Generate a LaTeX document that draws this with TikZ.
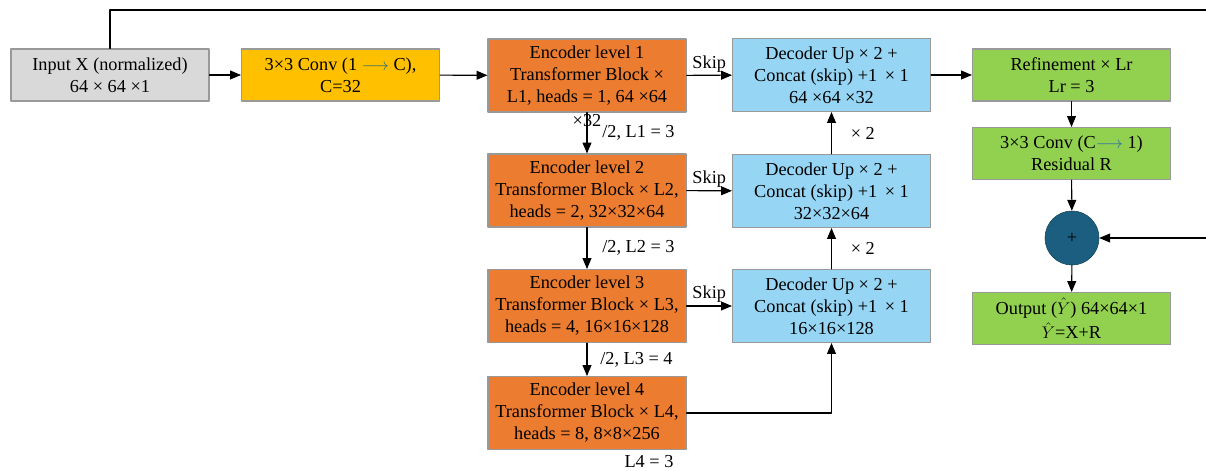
\documentclass[tikz,border=0pt]{standalone}
\usepackage{fontspec}
\setmainfont{Liberation Serif}
\usetikzlibrary{arrows}
\definecolor{inpgray}{rgb}{0.851,0.851,0.851}
\definecolor{convgold}{rgb}{1.,0.753,0.}
\definecolor{encorange}{rgb}{0.925,0.486,0.188}
\definecolor{decblue}{rgb}{0.588,0.839,0.957}
\definecolor{refgreen}{rgb}{0.573,0.816,0.314}
\definecolor{addteal}{rgb}{0.106,0.369,0.498}
\definecolor{edgegray}{rgb}{0.6,0.6,0.6}
\definecolor{tealarrow}{rgb}{0.13,0.42,0.47}
\definecolor{bluearrow}{rgb}{0.15,0.42,0.66}

\begin{document}
\begin{tikzpicture}[line cap=round,line join=round,>=triangle 45,x=0.025cm,y=-0.025cm,
  font=\fontsize{13}{15.6}\selectfont,
  box/.style={draw=edgegray,line width=0.8pt,align=center,minimum width=4.95cm},
  lowbox/.style={box,minimum height=1.3cm},
  highbox/.style={box,minimum height=1.825cm},
  inpbox/.style={lowbox,fill=inpgray},
  convbox/.style={lowbox,fill=convgold},
  encbox/.style={highbox,fill=encorange},
  decbox/.style={highbox,fill=decblue},
  refbox/.style={lowbox,fill=refgreen},
  conn/.style={->,line width=0.75pt},
  lbl/.style={inner sep=2pt}]
\useasboundingbox (0,0) rectangle (1206,471);
% input and first conv
\node [inpbox] (inp) at (110,75) {Input X (normalized)\\64 × 64 ×1};
\node [convbox] (cv1) at (340.5,75) {3×3 Conv (1 \textcolor{tealarrow}{$\longrightarrow$} C),\\C=32};
% encoder
\node [encbox] (e1) at (587,75.5) {Encoder level 1\\Transformer Block ×\\L1, heads = 1, 64 ×64};
\node [lbl] (e1b) at (587,121) {×32};
\node [encbox] (e2) at (587,190.5) {Encoder level 2\\Transformer Block × L2,\\heads = 2, 32×32×64};
\node [encbox] (e3) at (587,306) {Encoder level 3\\Transformer Block × L3,\\heads = 4, 16×16×128};
\node [encbox] (e4) at (587,413) {Encoder level 4\\Transformer Block × L4,\\heads = 8, 8×8×256};
\node [lbl] (e4b) at (649,462) {L4 = 3};
% decoder
\node [decbox] (d1) at (831.5,75) {Decoder Up × 2 +\\Concat (skip) +1 \,× 1\\64 ×64 ×32};
\node [decbox] (d2) at (831.5,191) {Decoder Up × 2 +\\Concat (skip) +1 \,× 1\\32×32×64};
\node [decbox] (d3) at (831.5,306) {Decoder Up × 2 +\\Concat (skip) +1 \,× 1\\16×16×128};
% refinement and output
\node [refbox] (ref) at (1071.5,75) {Refinement × Lr\\Lr = 3};
\node [refbox] (cv2) at (1071.5,153.5) {3×3 Conv (C\textcolor{bluearrow}{$\longrightarrow$} 1)\\Residual R};
\node [circle,draw=addteal!70!black,fill=addteal,minimum size=1.35cm,inner sep=0pt] (add) at (1072,238) {+};
\node [refbox] (out) at (1071.5,318.5) {Output ($\hat{Y}$) 64×64×1\\[2pt]$\hat{Y}$=X+R};
% connectors
\draw [conn] (inp) -- (cv1);
\draw [conn] (cv1) -- (e1);
\draw [conn] (e1) -- node[lbl,above] {Skip} (d1);
\draw [conn] (e2) -- node[lbl,above] {Skip} (d2);
\draw [conn] (e3) -- node[lbl,above] {Skip} (d3);
\draw [conn] (e1) -- node[lbl,right,xshift=0.3cm] {/2, L1 = 3} (e2);
\draw [conn] (e2) -- node[lbl,right,xshift=0.3cm] {/2, L2 = 3} (e3);
\draw [conn] (e3) -- node[lbl,right,xshift=0.25cm] {/2, L3 = 4} (e4);
\draw [conn] (e4.east) -| (d3.south);
\draw [conn] (d3) -- node[lbl,right,xshift=0.4cm] {× 2} (d2);
\draw [conn] (d2) -- node[lbl,right,xshift=0.4cm] {× 2} (d1);
\draw [conn] (d1) -- (ref);
\draw [conn] (ref) -- (cv2);
\draw [conn] (cv2) -- (add);
\draw [conn] (add) -- (out);
\draw [conn] (inp.north) |- (1209,10) |- (add);
\end{tikzpicture}
\end{document}
